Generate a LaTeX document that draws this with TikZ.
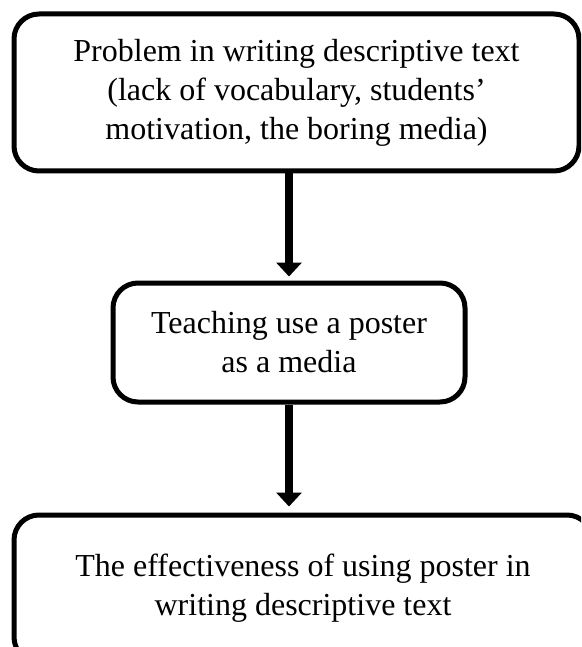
\documentclass[tikz,border=0pt]{standalone}
\usepackage{fontspec}
\setmainfont{Liberation Serif}
\usetikzlibrary{arrows.meta}
\begin{document}
\begin{tikzpicture}[x=1pt,y=-1pt,
  flowbox/.style={draw=black, line width=5pt, rounded corners=25pt, align=center,
    inner sep=0pt, font=\fontsize{32pt}{39pt}\selectfont},
  flowarrow/.style={line width=8.5pt, -{Triangle[width=25pt,length=14pt]}}]
\useasboundingbox (0,0) rectangle (581,647);
\clip (0,0) rectangle (581,647);
\node[flowbox, minimum width=565pt, minimum height=157pt] (b1) at (296.5,92.5)
  {Problem in writing descriptive text\\(lack of vocabulary, students’\\motivation, the boring media)};
\node[flowbox, minimum width=352pt, minimum height=119pt] (b2) at (289,342.5)
  {Teaching use a poster\\as a media};
\node[flowbox, minimum width=578pt, minimum height=147pt] (b3) at (303,588.5)
  {The effectiveness of using poster in\\writing descriptive text};
\draw[flowarrow, shorten >=4pt] (b1.south -| b2.north) -- (b2.north);
\draw[flowarrow, shorten >=6pt] (b2.south) -- (b3.north -| b2.south);
\end{tikzpicture}
\end{document}
